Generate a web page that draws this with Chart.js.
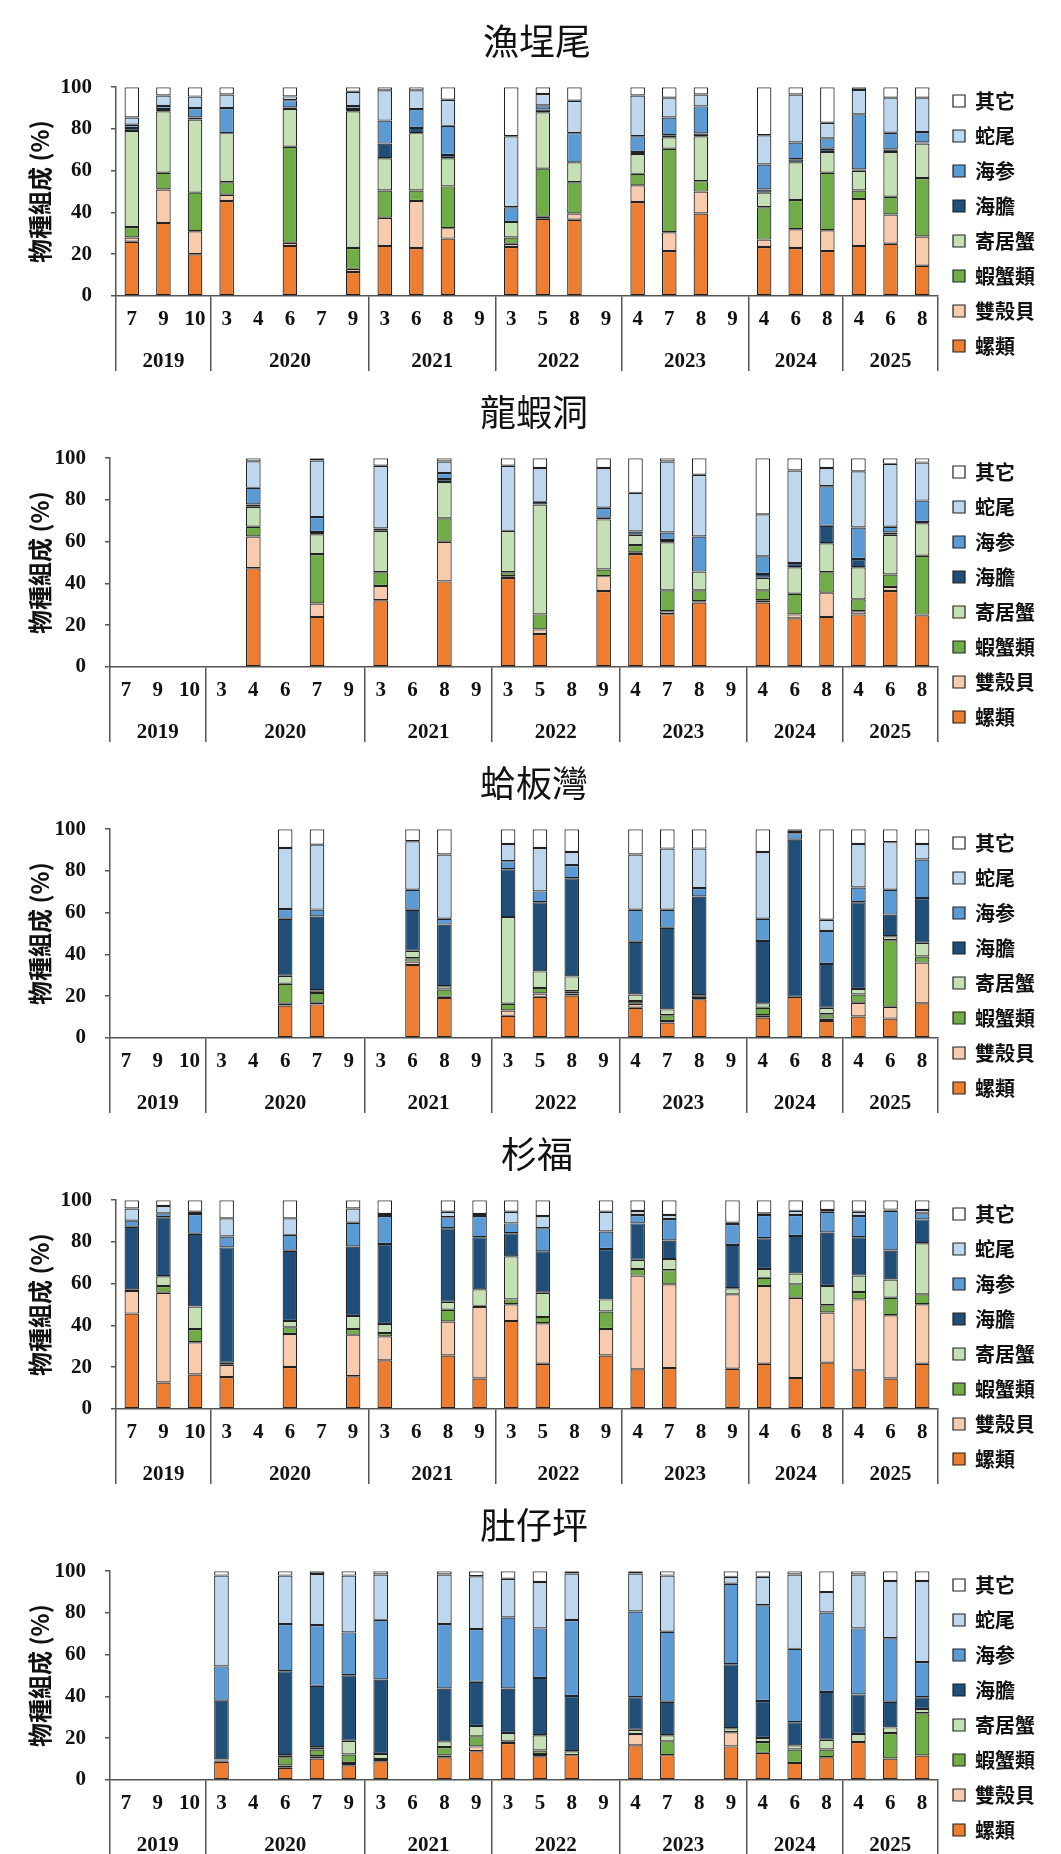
<!DOCTYPE html>
<html>
<head>
<meta charset="utf-8">
<script src="https://cdn.jsdelivr.net/npm/chart.js@4.4.1/dist/chart.umd.min.js"></script>
<style>
  body { margin: 0; background: #fff; }
  canvas { display: block; }
</style>
</head>
<body>
<canvas id="c0" width="1061" height="371"></canvas>
<canvas id="c1" width="1061" height="371"></canvas>
<canvas id="c2" width="1061" height="371"></canvas>
<canvas id="c3" width="1061" height="371"></canvas>
<canvas id="c4" width="1061" height="371"></canvas>
<script>
// sampling months and the year each one belongs to
const months = ["7","9","10","3","4","6","7","9","3","6","8","9","3","5","8","9","4","7","8","9","4","6","8","4","6","8"];
const yearOf = ["2019","2019","2019","2020","2020","2020","2020","2020","2021","2021","2021","2021",
                "2022","2022","2022","2022","2023","2023","2023","2023","2024","2024","2024","2025","2025","2025"];
const years = ["2019","2020","2021","2022","2023","2024","2025"];

// stack order, bottom to top
const seriesNames = ["螺類","雙殼貝","蝦蟹類","寄居蟹","海膽","海参","蛇尾","其它"];
const seriesColors = ["#ED7D31","#F8CBAD","#70AD47","#C5E0B4","#1F4E79","#5B9BD5","#BDD7EE","#FFFFFF"];

// one composition per sampling (same order as seriesNames), null = not sampled
const yuchengwei = [
  [26, 2, 5, 46, 1.5, 1.5, 3.5, 14.5],
  [35, 16, 8, 29.5, 1, 1.5, 5, 4],
  [20, 11, 18.5, 35, 1, 4.5, 5.5, 4.5],
  [45.5, 3, 6, 23.5, 0, 12, 6.5, 3.5],
  null,
  [24, 1.5, 46, 18, 0.8, 3.5, 1.8, 4.4],
  null,
  [11.5, 1.5, 10, 65.5, 1, 1.5, 6.8, 2.2],
  [24, 13.5, 13, 15.5, 7, 11, 14.5, 1.5],
  [23, 22.5, 5, 27.5, 2.5, 9, 9, 1.5],
  [27.5, 5, 20, 13.5, 1.5, 14, 12.5, 6],
  null,
  [23.5, 1.5, 3, 7.5, 0, 7, 34, 23.5],
  [37, 1, 23, 27, 1.3, 2, 5.5, 3.2],
  [36.5, 3, 15, 9.5, 0, 14, 15.5, 6.5],
  null,
  [45, 8, 5.5, 9.5, 1, 7.5, 19.5, 4],
  [21.5, 9, 40, 5.5, 1, 8.5, 9.5, 5],
  [39.5, 10.5, 5, 21.5, 1.3, 13, 5.7, 3.5],
  null,
  [23.5, 3.5, 15.5, 7, 1.5, 12, 14, 23],
  [23, 9, 14, 18, 1.5, 8, 23, 3.5],
  [21.5, 10, 27.5, 10, 1.5, 5, 7.5, 17],
  [24, 22.5, 4, 9.5, 0.6, 26.4, 11.7, 1.3],
  [25, 14, 8.5, 21.5, 1.2, 8, 16.8, 5],
  [14.5, 14, 28, 16.5, 0.5, 5, 16.5, 5]
];

const longxiadong = [
  null, null, null, null,
  [47.3, 15.2, 4.7, 9.5, 1.1, 8, 12.7, 1.5],
  null,
  [24, 6.4, 23.7, 9.5, 1.1, 7.1, 27.1, 1.1],
  null,
  [32, 6.8, 6.6, 19.8, 1.1, 0, 30.1, 3.6],
  null,
  [41, 19, 11.2, 17.4, 1.4, 2.9, 5.5, 1.6],
  null,
  [42.6, 0.9, 1.9, 19.8, 0, 0, 31.2, 3.6],
  [15.8, 2.2, 7.2, 52.6, 1.3, 0, 16.2, 4.7],
  null,
  [36.4, 7.1, 3.2, 24, 0.8, 4.8, 19, 4.7],
  [54.1, 0.8, 3.5, 4.9, 1.6, 0, 18.5, 16.6],
  [25.3, 1.4, 10, 23, 1.1, 3.6, 34, 1.6],
  [30.9, 0.6, 5.2, 9, 0, 16.8, 29.6, 7.9],
  null,
  [30.9, 1.1, 4.7, 6, 1.9, 8.4, 20.1, 26.9],
  [23.3, 1.9, 9.9, 12.7, 2, 0, 44.3, 5.9],
  [24, 11.6, 9.8, 13.9, 8.3, 19, 8.7, 4.7],
  [25.2, 1.5, 5.7, 15.4, 3.9, 15.1, 26.9, 6.3],
  [36.4, 1.9, 6, 19, 1.1, 2.8, 30.1, 2.7],
  [24.8, 0.3, 28.2, 15.5, 0.7, 10.2, 18.2, 2.1]
];

const gebanwan = [
  null, null, null, null, null,
  [15.6, 0.8, 9.6, 3.8, 27.3, 4.7, 29.2, 9],
  [16.1, 0.8, 4.7, 1.3, 35.3, 3.3, 31.1, 7.4],
  null, null,
  [35, 1.6, 1.6, 3.6, 19.6, 9.6, 23.2, 5.8],
  [19.2, 0.5, 3.5, 1.6, 29.5, 2.8, 30.8, 12.1],
  null,
  [10.6, 2.6, 3.2, 41.5, 22.9, 3.9, 8.2, 7.1],
  [19.7, 1.6, 2.7, 7.9, 33.1, 5.2, 20.8, 9],
  [20.3, 1, 1.1, 7.1, 47, 6.3, 6.3, 10.9],
  null,
  [14.5, 1.9, 1.3, 3.1, 25.3, 15.3, 26.5, 12.1],
  [7.4, 0.8, 2.7, 2.8, 39.1, 8.6, 29.3, 9.3],
  [18.5, 0.7, 0, 1.3, 47.3, 4, 18.9, 9.3],
  null,
  [9.8, 1.1, 3.6, 2.1, 29.9, 10.6, 32, 10.9],
  [19.7, 0, 0, 0, 75.3, 3.1, 1.1, 0.8],
  [8.2, 1.1, 2.1, 3.1, 21, 15.8, 5.3, 43.4],
  [10.3, 6.6, 3.9, 2.7, 41.5, 7.1, 20.8, 7.1],
  [9.3, 5.7, 31.8, 1.9, 10.4, 11.9, 22.8, 6.2],
  [16.6, 19.5, 2.9, 6.6, 21.4, 18.5, 7.4, 7.1]
];

const shanfu = [
  [45.7, 10.8, 0.8, 0, 30, 2.9, 5.8, 4],
  [12.7, 43, 3.2, 4.7, 28.2, 1.9, 3.5, 2.8],
  [16.5, 15.5, 6.3, 10.8, 34.8, 9.5, 1.1, 5.5],
  [15.3, 5.9, 1, 0, 55.2, 5.2, 8.7, 8.7],
  null,
  [20.1, 15.8, 3.2, 3.1, 33.6, 7.6, 7.9, 8.7],
  null,
  [15.7, 19.9, 2.7, 6.3, 33.2, 11.4, 6.8, 4],
  [23.3, 11.5, 1.6, 4.3, 38.3, 13.4, 1, 6.6],
  null,
  [25.6, 16.3, 5.6, 3.9, 35.2, 5.2, 2.7, 5.5],
  [14.6, 34.3, 0.5, 7.9, 25, 10.1, 1, 6.6],
  [42.2, 8, 2.3, 20.6, 11.1, 4.7, 5.6, 5.5],
  [21.7, 19.4, 3, 11.6, 19.8, 11.1, 5.8, 7.6],
  null,
  [25.6, 12.7, 8.4, 5.8, 24.1, 8.4, 9.5, 5.5],
  [19, 44.9, 3.2, 4.4, 17.4, 4, 1.9, 5.2],
  [19.6, 40.1, 6.8, 5.3, 8.9, 10.3, 1.9, 7.1],
  null,
  [19.3, 35.6, 0, 2.9, 20.8, 10, 0.6, 10.8],
  [21.7, 37.2, 3.9, 4.3, 14.7, 11.1, 0.8, 6.3],
  [14.9, 38.4, 6.4, 5.2, 18, 10, 2, 5.1],
  [22.2, 24, 3.5, 9.2, 25.6, 10, 0.8, 4.7],
  [18.5, 34, 3.5, 7.9, 18.4, 10.1, 2.1, 5.5],
  [14.6, 30.3, 8.4, 8.7, 13.9, 19, 0.6, 4.5],
  [21.7, 28.5, 4.7, 24.5, 11.4, 2.9, 1.6, 4.7]
];

const duzaiping = [
  null, null, null,
  [8.7, 0.6, 0, 0.5, 28.2, 16.4, 43.5, 2.1],
  null,
  [5.9, 1.1, 3.9, 1, 40.2, 22.6, 23.2, 2.1],
  [10.3, 1.1, 3.2, 1.1, 29.4, 29.1, 24.5, 1.3],
  [7.1, 1.1, 4, 6.6, 31.4, 20.5, 27.2, 2.1],
  [9, 1.1, 0, 2.4, 35.6, 28.6, 21.7, 1.6],
  null,
  [10.9, 0.8, 4.1, 2.7, 25.3, 30.9, 23.7, 1.6],
  [13.8, 2.3, 4.8, 5, 21.1, 25.3, 25.3, 2.4],
  [17.7, 0.8, 0, 4, 21.3, 34, 18.6, 3.6],
  [11.4, 1.1, 1.6, 7.3, 27.5, 23.7, 22.2, 5.2],
  [11.9, 0, 0, 1.9, 26.4, 36.4, 22.3, 1.1],
  null,
  [16.6, 5.4, 0, 2.1, 15.5, 41.1, 18.2, 1.1],
  [11.9, 0, 6.6, 2.9, 16.1, 33.5, 26.9, 2.1],
  null,
  [16.1, 6.8, 0, 1.9, 30.6, 38.6, 3.3, 2.7],
  [13, 0, 5.2, 1.9, 17.7, 45.9, 13.6, 2.7],
  [8.2, 0, 6.4, 2, 11.1, 35.1, 35.6, 1.6],
  [10.9, 0, 3.7, 4.7, 22.9, 38, 9.8, 10],
  [18.2, 0, 0, 3.8, 19, 31.6, 25.8, 1.6],
  [10.3, 0, 12.2, 2.7, 12.3, 30.4, 27.4, 4.7],
  [11.7, 0, 20.3, 2, 5.6, 16.9, 38.8, 4.7]
];

const cjk = '"Noto Sans CJK TC", "Noto Sans CJK SC", sans-serif';
const serif = '"Liberation Serif", "DejaVu Serif", serif';
const lineColor = "#555";

// year row under the month labels
const yearLabels = {
  id: "yearLabels",
  afterLayout(chart) {
    // the site name sits a little right of the plot centre
    chart.titleBlock.left += 10;
    chart.titleBlock.right += 10;
  },
  afterDraw(chart) {
    const xs = chart.scales.x;
    const ctx = chart.ctx;
    ctx.save();
    ctx.font = "bold 21px " + serif;
    ctx.fillStyle = "#111";
    ctx.textAlign = "center";
    ctx.textBaseline = "middle";
    years.forEach(y => {
      const first = yearOf.indexOf(y);
      const last = yearOf.lastIndexOf(y);
      const cx = (xs.getPixelForValue(first) + xs.getPixelForValue(last)) / 2;
      ctx.fillText(y, cx, xs.top + 66);
    });
    ctx.restore();
  }
};

function makeChart(id, title, rows, axisWidth) {
  const datasets = seriesNames.map((name, k) => ({
    label: name,
    data: rows.map(r => (r ? r[k] : null)),
    backgroundColor: seriesColors[k],
    borderColor: "#222",
    borderWidth: 1.2,
    borderSkipped: false,
    barPercentage: 0.46,
    categoryPercentage: 1
  }));

  new Chart(document.getElementById(id), {
    type: "bar",
    data: { labels: months, datasets: datasets },
    options: {
      responsive: false,
      animation: false,
      layout: { padding: { top: 0, right: 16, bottom: 0, left: 0 } },
      plugins: {
        title: {
          display: true,
          fullSize: false,
          text: title,
          color: "#111",
          font: { family: cjk, size: 36, weight: "normal" },
          padding: { top: 20, bottom: 24 }
        },
        legend: {
          position: "right",
          align: "end",
          reverse: true,
          labels: {
            boxWidth: 12,
            boxHeight: 12,
            padding: 15,
            color: "#111",
            font: { family: cjk, size: 20, weight: "bold" }
          }
        },
        tooltip: { enabled: false }
      },
      scales: {
        x: {
          stacked: true,
          afterFit: s => { s.height = 75; },
          border: { color: lineColor, width: 1.5 },
          grid: {
            drawOnChartArea: false,
            offset: true,
            tickLength: 75,
            lineWidth: 1.5,
            color: c => (c.index === undefined || c.index === 0 || yearOf[c.index] !== yearOf[c.index - 1])
              ? lineColor : "rgba(0,0,0,0)"
          },
          ticks: {
            autoSkip: false,
            maxRotation: 0,
            padding: -64,
            color: "#111",
            font: { family: serif, size: 21, weight: "bold" }
          }
        },
        y: {
          stacked: true,
          min: 0,
          max: 100,
          afterFit: s => { s.width = axisWidth; },
          border: { color: lineColor, width: 1.5 },
          grid: { drawOnChartArea: false, tickLength: 5, color: lineColor, lineWidth: 1.5 },
          ticks: {
            stepSize: 20,
            padding: 19,
            color: "#111",
            font: { family: serif, size: 21, weight: "bold" }
          },
          title: {
            display: true,
            text: "物種組成 (%)",
            color: "#111",
            font: { family: cjk, size: 24, weight: "bold" },
            padding: { top: 25, bottom: 0 }
          }
        }
      }
    },
    plugins: [yearLabels]
  });
}

makeChart("c0", "漁埕尾", yuchengwei, 116);
makeChart("c1", "龍蝦洞", longxiadong, 110);
makeChart("c2", "蛤板灣", gebanwan, 110);
makeChart("c3", "杉福", shanfu, 116);
makeChart("c4", "肚仔坪", duzaiping, 110);
</script>
</body>
</html>
